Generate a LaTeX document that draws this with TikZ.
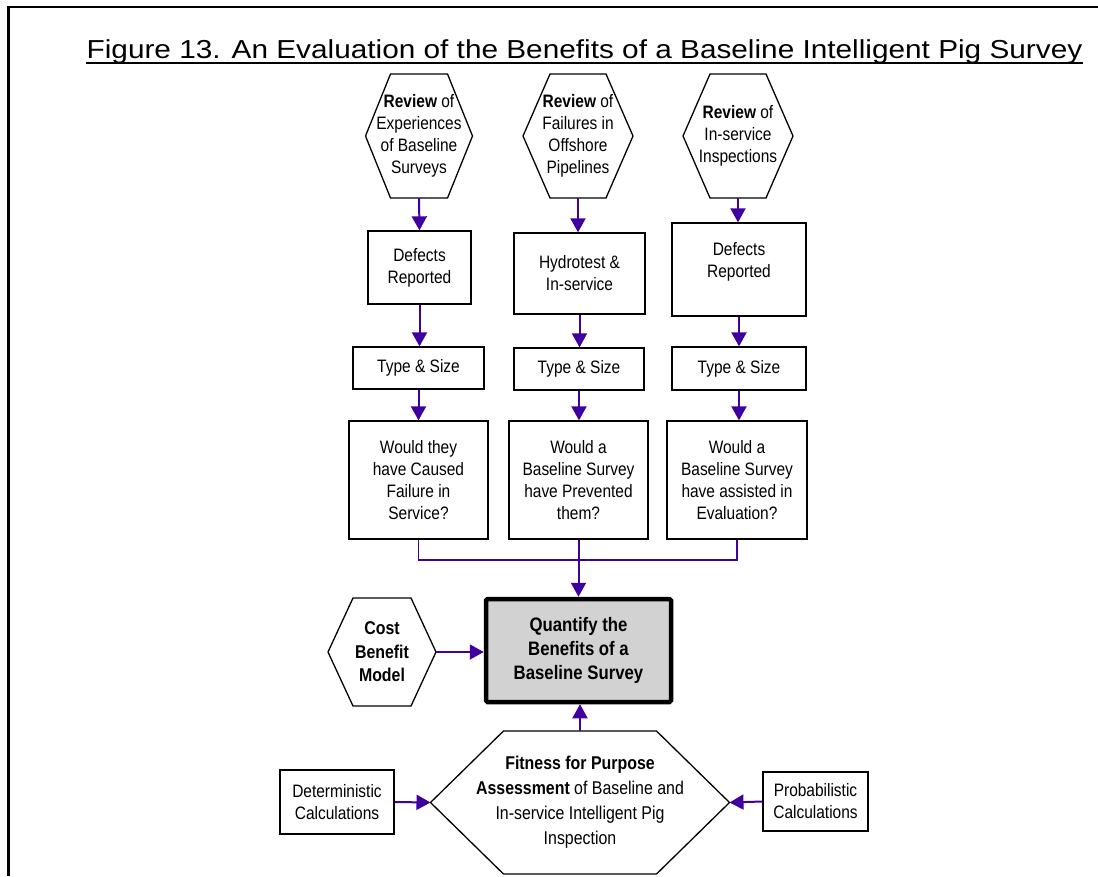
\documentclass[tikz,border=0pt]{standalone}
\usepackage{fontspec}
\setmainfont{Liberation Sans}[FakeStretch=0.86]
\newfontfamily\titlefont{Liberation Sans}[FakeStretch=1.145]
\usetikzlibrary{arrows.meta,calc}
\definecolor{arrowc}{RGB}{64,0,160}
\definecolor{qfill}{RGB}{210,210,210}
\newcommand{\drawhex}[4]{%
  \draw[hexline] ($(#1)+(-#2,-#3)$) -- ($(#1)+(#2,-#3)$) -- ($(#1)+(#2+#4,0)$) -- ($(#1)+(#2,#3)$) -- ($(#1)+(-#2,#3)$) -- ($(#1)+(-#2-#4,0)$) -- cycle;
  \coordinate (#1-L) at ($(#1)+(-#2-#4,0)$);
  \coordinate (#1-R) at ($(#1)+(#2+#4,0)$);}
\begin{document}
\begin{tikzpicture}[x=1pt,y=-1pt,
  every node/.style={font=\fontsize{18}{22}\selectfont, align=center, inner sep=0pt},
  box/.style={draw=black, line width=1.3pt},
  hexline/.style={draw=black, line width=1.3pt},
  hextext/.style={draw=none},
  arr/.style={draw=arrowc, line width=2pt, -{Triangle[length=14pt,width=15pt]}},
  bracket/.style={draw=arrowc, line width=1.5pt},
  quant/.style={draw=black, line width=4.5pt, fill=qfill, rounded corners=1.5pt}]
\useasboundingbox (0,0) rectangle (1098,876);
% frame
\draw[line width=2.5pt] (8.5,876) -- (8.5,7) -- (1098,7);
% title
\node[anchor=base, font=\titlefont\fontsize{26}{30}\selectfont] (title) at (584.5,58)
  {Figure 13. An Evaluation of the Benefits of a Baseline Intelligent Pig Survey};
\draw[line width=2pt] ([yshift=-5pt]title.base west) -- ([yshift=-5pt]title.base east);

% review hexagons
\node[hextext, minimum height=124pt] (h1) at (419,136)
  {\textbf{Review} of\\Experiences\\of Baseline\\Surveys};
\drawhex{h1}{28.5}{62}{25}
\node[hextext, minimum height=124pt] (h2) at (578,136)
  {\textbf{Review} of\\Failures in\\Offshore\\Pipelines};
\drawhex{h2}{28}{62}{27}
\node[hextext, minimum height=124pt] (h3) at (738,136)
  {\textbf{Review} of\\In-service\\Inspections};
\drawhex{h3}{28}{62}{27}

% first boxes
\node[box, minimum width=103pt, minimum height=73pt] (d1) at (419.5,267.5) {Defects\\Reported};
\node[box, minimum width=131pt, minimum height=81pt] (d2) at (579.5,273.5) {Hydrotest \&\\In-service};
\node[box, minimum width=134pt, minimum height=93pt] (d3) at (739,269.5) {Defects\\Reported\\[-2pt]\mbox{}};

% type & size
\node[box, minimum width=131pt, minimum height=42pt] (t1) at (418.5,368) {Type \& Size};
\node[box, minimum width=130pt, minimum height=42pt] (t2) at (579,369) {Type \& Size};
\node[box, minimum width=134pt, minimum height=43pt] (t3) at (739,368.5) {Type \& Size};

% questions
\node[box, minimum width=139pt, minimum height=118pt] (q1) at (418.5,480) {Would they\\have Caused\\Failure in\\Service?};
\node[box, minimum width=139pt, minimum height=118pt] (q2) at (578.5,480) {Would a\\Baseline Survey\\have Prevented\\them?};
\node[box, minimum width=140pt, minimum height=118pt] (q3) at (737,480) {Would a\\Baseline Survey\\have assisted in\\Evaluation?};

% quantify
\node[quant, minimum width=185pt, minimum height=103pt, font=\bfseries\fontsize{19.5}{24}\selectfont] (qb) at (578.5,650.5)
  {Quantify the\\Benefits of a\\Baseline Survey};

% cost benefit hexagon
\node[hextext, minimum height=108pt, font=\bfseries\fontsize{18.5}{23.5}\selectfont] (cb) at (382,652) {Cost\\Benefit\\Model};
\drawhex{cb}{29}{54}{25}

% fitness hexagon
\node[hextext, minimum height=143pt, font=\fontsize{18.5}{25}\selectfont] (fp) at (580,802.5)
  {\textbf{Fitness for Purpose}\\\textbf{Assessment} of Baseline and\\In-service Intelligent Pig\\Inspection};
\drawhex{fp}{76.5}{71.5}{73}

% side boxes
\node[box, minimum width=114pt, minimum height=64pt] (det) at (337,802) {Deterministic\\Calculations};
\node[box, minimum width=105pt, minimum height=59pt] (prob) at (815.5,801.5) {Probabilistic\\Calculations};

% connectors
\draw[arr] (h1.south) -- (d1.north);
\draw[arr] (h2.south) -- (h2.south |- d2.north);
\draw[arr] (h3.south) -- (h3.south |- d3.north);
\draw[arr] (d1.south) -- (d1.south |- t1.north);
\draw[arr] (d2.south) -- (d2.south |- t2.north);
\draw[arr] (d3.south) -- (d3.south |- t3.north);
\draw[arr] (t1.south) -- (t1.south |- q1.north);
\draw[arr] (t2.south) -- (t2.south |- q2.north);
\draw[arr] (t3.south) -- (t3.south |- q3.north);
\coordinate (join) at (578.5,560);
\draw[bracket] (q1.south) |- (join) -| (q3.south);
\draw[arr] (q2.south) -- (qb.north);
\draw[arr] (cb-R) -- (cb-R -| qb.west);
\draw[arr] (fp.north) -- (fp.north |- qb.south);
\draw[arr] (det.east) -- (fp-L);
\draw[arr] (prob.west) -- (fp-R);
\end{tikzpicture}
\end{document}
